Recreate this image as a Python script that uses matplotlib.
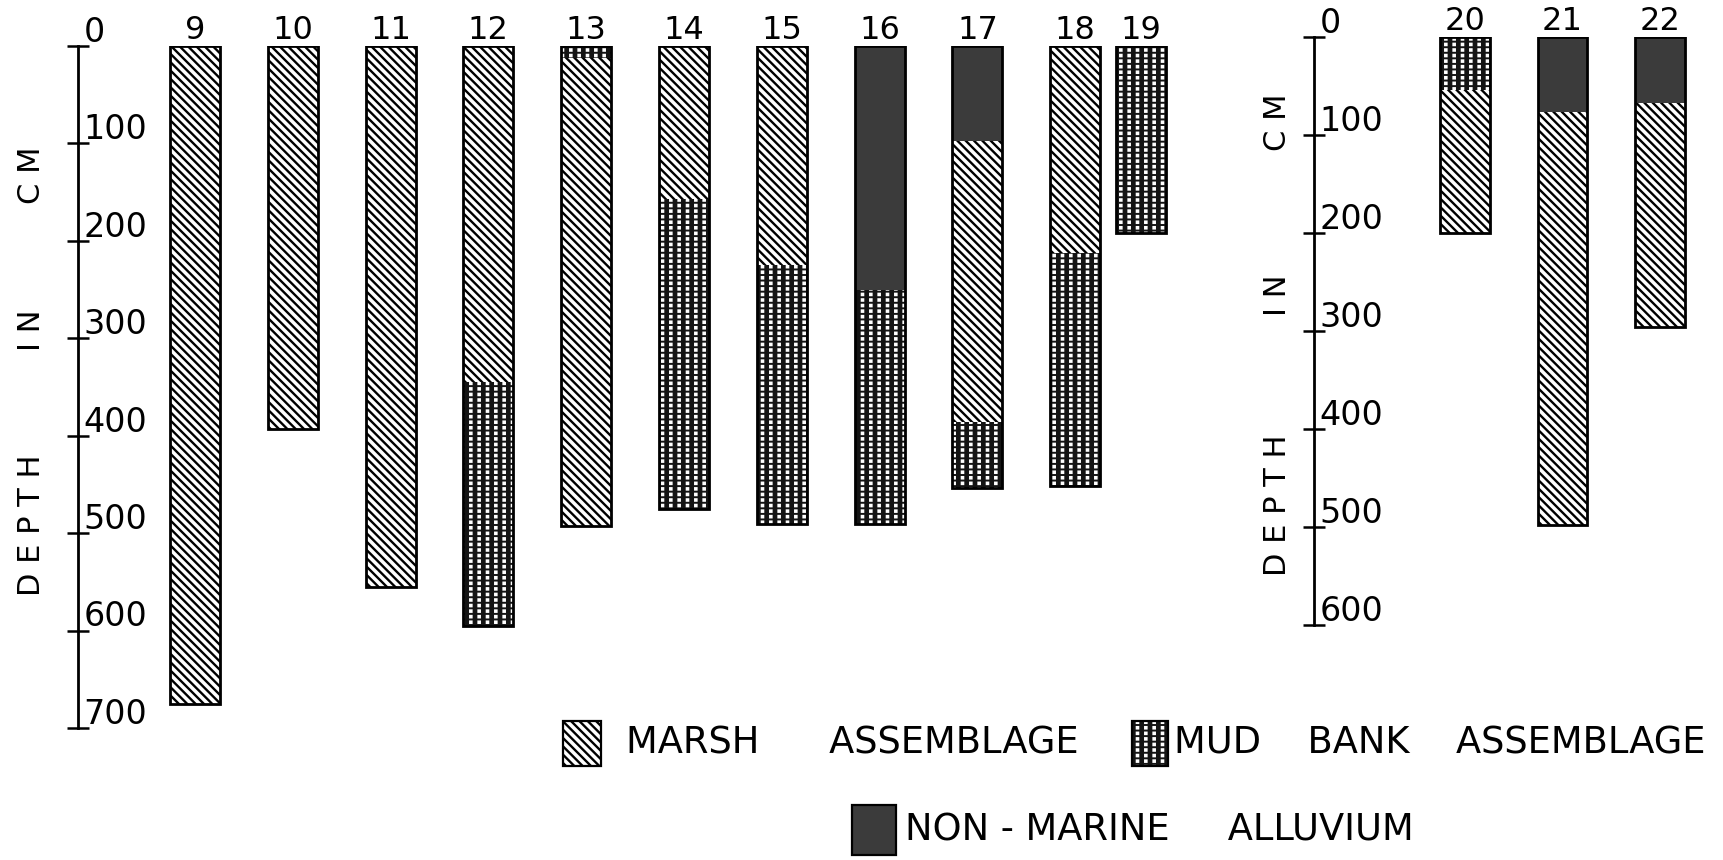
import matplotlib
matplotlib.use("Agg")
import matplotlib.pyplot as plt
import matplotlib.patches as patches
from matplotlib.transforms import blended_transform_factory

plt.rcParams['font.family'] = ['DejaVu Sans']
plt.rcParams['hatch.linewidth'] = 1.5

# --- data: cores, unit sequence (top -> bottom) and unit boundaries in cm ---
# M = marsh assemblage, B = mud bank assemblage, N = non-marine alluvium
left_cores = ["9", "10", "11", "12", "13", "14", "15", "16", "17", "18", "19"]
left_units = [["M"], ["M"], ["M"], ["M", "B"], ["B", "M"], ["M", "B"],
              ["M", "B"], ["N", "B"], ["N", "M", "B"], ["M", "B"], ["B"]]
left_bounds = [[0, 675], [0, 393], [0, 555], [0, 345, 595], [0, 12, 493],
               [0, 157, 475], [0, 225, 491], [0, 250, 491], [0, 97, 386, 454],
               [0, 212, 452], [0, 192]]

right_cores = ["20", "21", "22"]
right_units = [["B", "M"], ["N", "M"], ["N", "M"]]
right_bounds = [[0, 54, 200], [0, 77, 498], [0, 67, 296]]

left_ticks = [0, 100, 200, 300, 400, 500, 600, 700]
right_ticks = [0, 100, 200, 300, 400, 500, 600]

legend_labels = {"M": "MARSH      ASSEMBLAGE",
                 "B": "MUD    BANK    ASSEMBLAGE",
                 "N": "NON - MARINE     ALLUVIUM"}

# --- layout ---
W, H = 1723, 860
left_pos = [0, 1, 2, 3, 4, 5, 6, 7, 8, 9, 9.67]
right_pos = [0, 1, 2]
BAR_W = 0.51
MUD_DARK = "#141414"
ALLUV = "#3b3b3b"

fig = plt.figure(figsize=(W / 100, H / 100), dpi=100)


def px_axes(x0, ytop, x1, ybot):
    return fig.add_axes([x0 / W, 1 - ybot / H, (x1 - x0) / W, (ybot - ytop) / H])


def set_hlw(p, lw):
    if hasattr(p, "set_hatch_linewidth"):
        p.set_hatch_linewidth(lw)


def draw_segment(ax, x, top, bot, unit):
    h = bot - top
    if unit == "M":
        bars = ax.bar(x, h, bottom=top, width=BAR_W, color="white",
                      edgecolor="black", hatch="\\\\\\\\", linewidth=0)
        for b in bars:
            set_hlw(b, 1.7)
    elif unit == "B":
        bars = ax.bar(x, h, bottom=top, width=BAR_W, color=MUD_DARK,
                      edgecolor="white", hatch="||", linewidth=0)
        for b in bars:
            set_hlw(b, 2.6)
        bars = ax.bar(x, h, bottom=top, width=BAR_W, color="none",
                      edgecolor=MUD_DARK, hatch="---", linewidth=0)
        for b in bars:
            set_hlw(b, 1.4)
    else:
        ax.bar(x, h, bottom=top, width=BAR_W, color=ALLUV, linewidth=0)


def draw_panel(ax, names, positions, units, bounds, ticks):
    for name, x, us, bs in zip(names, positions, units, bounds):
        for u, t, b in zip(us, bs[:-1], bs[1:]):
            draw_segment(ax, x, t, b, u)
        ax.bar(x, bs[-1] - bs[0], bottom=bs[0], width=BAR_W, fill=False,
               edgecolor="black", linewidth=2.0)
        ax.annotate(name, xy=(x, 0), xytext=(0, 5), textcoords="offset points",
                    ha="center", va="baseline", fontsize=23)
    for s in ["top", "right", "bottom"]:
        ax.spines[s].set_visible(False)
    ax.spines["left"].set_linewidth(2.0)
    ax.set_xticks([])
    ax.set_yticks(ticks)
    ax.tick_params(axis="y", direction="inout", length=16, width=1.8,
                   labelleft=False)
    trans = blended_transform_factory(ax.transAxes, ax.transData)
    for t in ticks:
        ax.annotate(str(t), xy=(0, t), xycoords=trans, xytext=(4, 3),
                    textcoords="offset points", ha="left", va="baseline",
                    fontsize=24)


# left panel: cores 9-19
axL = px_axes(78, 46, 1200, 728)
axL.set_xlim(-(195 - 78) / 97.8, (1200 - 195) / 97.8)
axL.set_ylim(max(left_ticks), 0)
draw_panel(axL, left_cores, left_pos, left_units, left_bounds, left_ticks)

# right panel: cores 20-22
axR = px_axes(1314, 37, 1723, 625)
axR.set_xlim(-(1465 - 1314) / 97.5, (1723 - 1465) / 97.5)
axR.set_ylim(max(right_ticks), 0)
draw_panel(axR, right_cores, right_pos, right_units, right_bounds, right_ticks)

# depth axis titles
for xc, ys in [(31, (175, 330, 525)), (1277, (122, 295, 505))]:
    for txt, yc in zip(["C M", "I N", "D E P T H"], ys):
        fig.text(xc / W, 1 - yc / H, txt, rotation=90, ha="center",
                 va="center", fontsize=22)


# legend
def legend_item(unit, x0, ytop, x1, ybot, tx):
    kw = dict(transform=fig.transFigure, linewidth=0)
    rect = [(x0 / W, 1 - ybot / H), (x1 - x0) / W, (ybot - ytop) / H]
    if unit == "M":
        p = patches.Rectangle(*rect, facecolor="white", edgecolor="black",
                              hatch="\\\\\\\\", **kw)
        set_hlw(p, 1.7)
        fig.add_artist(p)
    elif unit == "B":
        p = patches.Rectangle(*rect, facecolor=MUD_DARK, edgecolor="white",
                              hatch="||", **kw)
        set_hlw(p, 2.6)
        fig.add_artist(p)
        p = patches.Rectangle(*rect, facecolor="none", edgecolor=MUD_DARK,
                              hatch="---", **kw)
        set_hlw(p, 1.4)
        fig.add_artist(p)
    else:
        fig.add_artist(patches.Rectangle(*rect, facecolor=ALLUV, **kw))
    fig.add_artist(patches.Rectangle(*rect, fill=False, edgecolor="black",
                                     transform=fig.transFigure, linewidth=1.6))
    fig.text(tx / W, 1 - (ytop + ybot) / 2 / H, legend_labels[unit],
             ha="left", va="center", fontsize=26.5)


legend_item("M", 563, 721, 601, 766, 626)
legend_item("B", 1132, 721, 1168, 766, 1174)
legend_item("N", 852, 805, 896, 855, 905)

fig.savefig("out.png", dpi=100, facecolor="white")
